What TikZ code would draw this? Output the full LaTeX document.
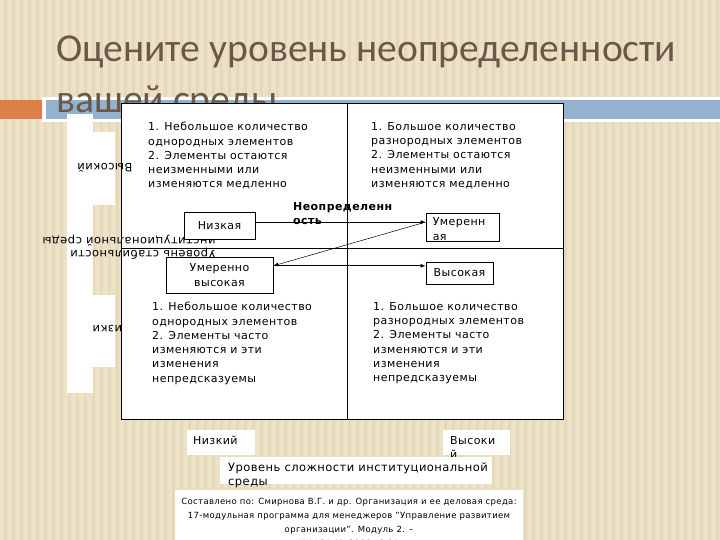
\documentclass[tikz,border=0pt]{standalone}
\usepackage{fontspec}
\setmainfont{DejaVu Sans}[LetterSpace=4.0]
\newfontfamily\titlefont{Carlito}
\usepackage{tikz}
\usetikzlibrary{arrows.meta, positioning, calc}
\definecolor{paper}{RGB}{237,225,198}
\definecolor{paperline}{RGB}{229,216,187}
\definecolor{titlebrown}{RGB}{108,88,74}
\definecolor{barorange}{RGB}{222,126,72}
\definecolor{barblue}{RGB}{146,178,208}
\tikzset{
  cell/.style={anchor=north west, inner sep=0pt, align=left,
    font=\fontsize{11}{14.3}\selectfont},
  level/.style={rectangle, draw=black, fill=white, inner sep=0pt,
    line width=0.8pt, align=center, font=\fontsize{11}{14.3}\selectfont},
  backlabel/.style={rotate=180, inner sep=0pt, align=left,
    font=\fontsize{11.5}{13}\selectfont},
  whitebox/.style={rectangle, fill=white, inner sep=0pt},
  arrow/.style={-{Latex[length=5pt,width=4pt]}, line width=0.8pt},
  thinarrow/.style={-{Latex[length=5pt,width=4pt]}, line width=0.5pt}
}

\begin{document}
\begin{tikzpicture}[x=1pt, y=-1pt]
  \useasboundingbox (0,0) rectangle (720,540);
  \clip (0,0) rectangle (720,540);

  % Paper background
  \fill[paper] (0,0) rectangle (720,540);
  \foreach \x in {4,12,...,716}
    \fill[paperline] (\x,0) rectangle (\x+3,540);

  % Title bars
  \fill[white] (42,97) rectangle (720,122);
  \fill[barblue] (46,100) rectangle (720,119);
  \fill[barorange] (0,100) rectangle (42,119);

  % Title
  \node[anchor=base west, inner sep=0pt, text=titlebrown,
    font=\titlefont\fontsize{39.6}{48}\selectfont] (title) at (56,62)
    {Оцените уровень неопределенности};
  \node[anchor=base west, inner sep=0pt, text=titlebrown,
    font=\titlefont\fontsize{39.6}{48}\selectfont] (titlesub) at (56,113)
    {вашей среды};

  % Vertical axis
  \fill[white] (67,114) rectangle (93,393);
  \fill[white] (93,132) rectangle (115,205);
  \fill[white] (93,295) rectangle (115,367);

  % Matrix
  \draw[fill=white, line width=1pt] (121,104) rectangle (563,419);
  \draw[line width=0.8pt] (347,104) -- (347,419);
  \draw[line width=0.8pt] (121,248) -- (563,248);
  \node[backlabel] (yhi) at (105,168) {Высокий};
  \begin{scope}
    \clip (93,310) rectangle (122,350);
    \node[backlabel] (ylo) at (108,330) {Низкий};
  \end{scope}
  \node[backlabel] (yaxis) at (129,247.5)
    {Уровень стабильности\\институциональной среды};

  % Quadrants
  \node[cell] (q1) at (148,122) {1. Небольшое количество\\однородных элементов\\2. Элементы остаются\\неизменными или\\изменяются медленно};
  \node[cell] (q2) at (371,122) {1. Большое количество\\разнородных элементов\\2. Элементы остаются\\неизменными или\\изменяются медленно};
  \node[cell] (q3) at (152,302) {1. Небольшое количество\\однородных элементов\\2. Элементы часто\\изменяются и эти\\изменения\\непредсказуемы};
  \node[cell] (q4) at (373,302) {1. Большое количество\\разнородных элементов\\2. Элементы часто\\изменяются и эти\\изменения\\непредсказуемы};

  % Uncertainty levels
  \node[level, minimum width=71pt, minimum height=27pt] (nizk) at (219.5,225.5) {Низкая};
  \node[level, minimum width=73pt, minimum height=28pt] (umer) at (462.5,227) {};
  \node[cell] (umertxt) at ($(umer.north west)+(7,5)$) {Умеренн\\ая};
  \node[level, minimum width=107pt, minimum height=36pt] (umvys) at (219.5,275) {Умеренно\\высокая};
  \node[level, minimum width=67pt, minimum height=22pt] (vys) at (459.5,273) {Высокая};
  \node[cell, font=\bfseries\fontsize{11}{14}\selectfont] (unc) at (293,202) {Неопределенн\\ость};

  % Connections
  \coordinate (j1) at ($(umer.north west)!0.33!(umer.south west)$);
  \coordinate (j2) at ($(umvys.north east)!0.25!(umvys.south east)$);
  \draw[arrow] (nizk.east |- j1) -- (j1);
  \draw[thinarrow] (j1) -- (j2);
  \draw[arrow] (j2) -- (j2 -| vys.west);

  % Horizontal axis
  \node[whitebox, minimum width=68pt, minimum height=25pt] (xlo) at (221,442.5) {};
  \node[cell] (xlotxt) at (193,436) {Низкий};
  \node[whitebox, minimum width=67pt, minimum height=25pt] (xhi) at (476.5,442.5) {};
  \node[cell] (xhitxt) at (450,436) {Высоки\\й};
  \node[whitebox, minimum width=272pt, minimum height=27pt] (xaxis) at (356,470.5) {};
  \node[cell, font=\fontsize{11.5}{14}\selectfont] (xaxistxt) at (228,463)
    {Уровень сложности институциональной\\среды};

  % Source
  \node[whitebox, anchor=north west, minimum width=348pt, minimum height=60pt] (src) at (175,490) {};
  \node[anchor=north, inner sep=0pt, align=center, font=\fontsize{8.5}{14}\selectfont] (srctxt) at (349,497.5)
    {Составлено по: Смирнова В.Г. и др. Организация и ее деловая среда:\\17-модульная программа для менеджеров "Управление развитием\\организации". Модуль 2. –\\ИНФРА-М, 2000. С.91};
\end{tikzpicture}
\end{document}
